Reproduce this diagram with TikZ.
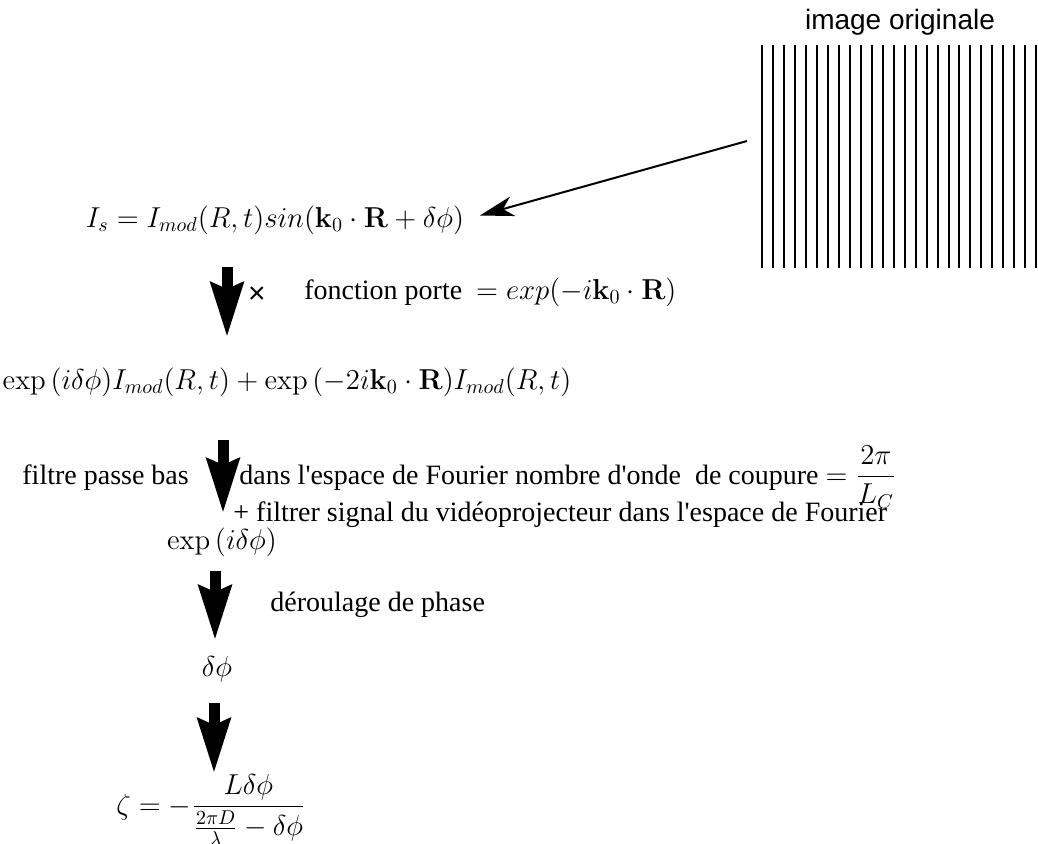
\documentclass[tikz,border=0pt]{standalone}
\usepackage[no-math]{fontspec}
\setmainfont[Ligatures=TeXOff]{Liberation Serif}
\newfontfamily\sansf{Liberation Sans}
\usepackage{amsmath,amssymb}
\usetikzlibrary{arrows.meta,positioning}

\begin{document}
\begin{tikzpicture}[x=0.5pt,y=-0.5pt,font=\fontsize{14}{17}\selectfont]
\tikzset{
  eq/.style={inner sep=0pt,anchor=base},
  txt/.style={inner sep=0pt,anchor=base west},
  raie/.style={line width=1pt},
  gros/.style={-{Stealth[length=27pt,width=16pt,inset=3pt]},line width=5.5pt},
  fine/.style={-{Stealth[length=17pt,width=10pt,inset=5pt]},line width=1pt}
}
\useasboundingbox (0,0) rectangle (1038,843);
% image originale
\node(titre)[inner sep=0pt,anchor=base,font=\fontsize{14}{17}\sansf] at (900,29){image originale};
\foreach \i in {0,...,25}
  \draw[raie](762+\i*10.97,45)--++(0,223);
\coordinate(src) at (747,141);
% chaine de traitement
\node(is)[eq] at (275,227){$I_s=I_{mod}(R,t)sin(\mathbf{k}_0\cdot\mathbf{R}+\delta\phi)$};
\node(fois)[inner sep=0pt,font=\fontsize{15}{17}\sansf] at (257,295){×};
\node(porte)[txt] at (304,299){fonction porte \ $= exp(-i\mathbf{k}_0\cdot\mathbf{R})$};
\node(prod)[eq] at (287,389){$\exp{(i\delta\phi)}I_{mod}(R,t)+\exp{(-2i\mathbf{k}_0\cdot\mathbf{R})}I_{mod}(R,t)$};
\node(fpb)[txt] at (22,484){filtre passe bas};
\node(fourier)[txt] at (239,484){dans l'espace de Fourier nombre d'onde \ de coupure $=\dfrac{2\pi}{L_C}$};
\node(video)[txt] at (233,521){+ filtrer signal du vidéoprojecteur dans l'espace de Fourier};
\node(phase)[eq] at (222,549){$\exp{(i\delta\phi)}$};
\node(deroul)[txt] at (270,611){déroulage de phase};
\node(dphi)[eq] at (217,676){$\delta\phi$};
\node(zeta)[eq] at (211,814){$\zeta=-\dfrac{L\delta\phi}{\frac{2\pi D}{\lambda}-\delta\phi}$};
\coordinate(a1) at (227,267); \coordinate(b1) at (227,337);
\coordinate(a2) at (223,440); \coordinate(b2) at (223,513);
\coordinate(a3) at (215,571); \coordinate(b3) at (215,640);
\coordinate(a4) at (214,703); \coordinate(b4) at (214,773);
\draw[fine,shorten >=8pt](src)--(is.east);
\draw[gros](a1)--(b1); \draw[gros](a2)--(b2); \draw[gros](a3)--(b3); \draw[gros](a4)--(b4);
\end{tikzpicture}
\end{document}
